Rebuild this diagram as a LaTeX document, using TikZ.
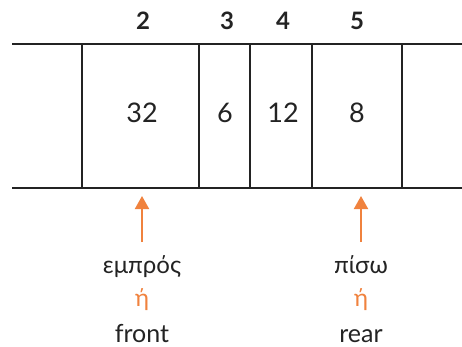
\documentclass[tikz,border=0pt]{standalone}
\usepackage{fontspec}
\setmainfont{Lato}
\usetikzlibrary{arrows.meta,positioning}
\definecolor{ptrorange}{RGB}{240,130,62}
\definecolor{ink}{RGB}{35,35,35}

\begin{document}
\begin{tikzpicture}[x=1pt,y=-1pt,
  every node/.style={inner sep=0pt,text=ink},
  val/.style={font=\fontsize{27}{29}\selectfont},
  idx/.style={font=\fontsize{24}{26}\selectfont\bfseries},
  lab/.style={font=\fontsize{25}{27}\selectfont,anchor=base},
  grlab/.style={lab,font=\fontsize{24}{26}\selectfont},
  orlab/.style={grlab,text=ptrorange},
  ptr/.style={draw=ptrorange,line width=2pt,-{Triangle[length=13pt,width=14pt]}},
  wall/.style={line width=2pt,draw=ink}]
  \useasboundingbox (0,0) rectangle (462,346);

  % the queue frame
  \draw[wall] (12,44) -- (462,44);
  \draw[wall] (12,188) -- (462,188);
  \foreach \x in {82,199,250,312,402}
    \draw[wall] (\x,44) -- (\x,188);

  % cell values
  \node[val] (v2) at (142,113) {32};
  \node[val] (v3) at (225,113) {6};
  \node[val] (v4) at (283,113) {12};
  \node[val] (v5) at (357,113) {8};

  % indices
  \node[idx] (i2) at (143,21) {2};
  \node[idx] (i3) at (227,21) {3};
  \node[idx] (i4) at (283,21) {4};
  \node[idx] (i5) at (357,21) {5};

  % front pointer
  \node[grlab] (fgr) at (142,273) {εμπρός};
  \node[orlab] (for) at (142,306) {ή};
  \node[lab] (fen) at (142,342) {front};
  \coordinate (ftail) at (142,242);
  \coordinate (fhead) at (142,196);
  \draw[ptr] (ftail) -- (fhead);

  % rear pointer
  \node[grlab] (rgr) at (361,273) {πίσω};
  \node[orlab] (ror) at (361,306) {ή};
  \node[lab] (ren) at (361,342) {rear};
  \coordinate (rtail) at (361,242);
  \coordinate (rhead) at (361,196);
  \draw[ptr] (rtail) -- (rhead);
\end{tikzpicture}
\end{document}
